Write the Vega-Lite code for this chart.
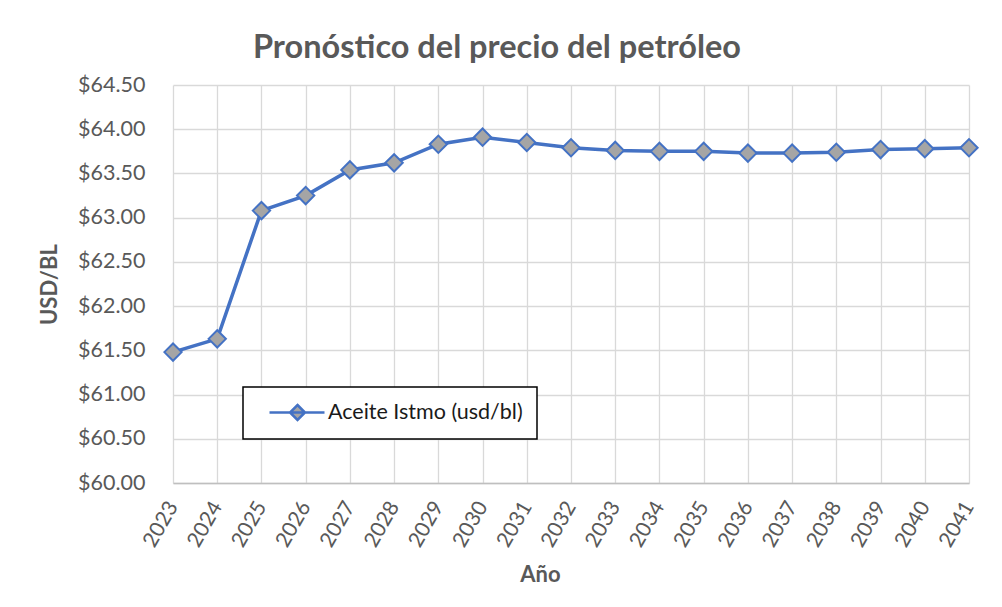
{
  "$schema": "https://vega.github.io/schema/vega-lite/v6.json",
  "width": 796,
  "height": 398,
  "autosize": "none",
  "padding": {"left": 173, "top": 85, "right": 33, "bottom": 124},
  "background": "white",
  "title": {
    "text": "Pronóstico del precio del petróleo",
    "font": "Lato",
    "fontSize": 32.5,
    "fontWeight": "bold",
    "color": "#595959",
    "anchor": "middle",
    "frame": "group",
    "dx": -74,
    "offset": 10
  },
  "data": {
    "values": [
      {"anio": 2023, "precio": 61.48, "serie": "Aceite Istmo (usd/bl)"},
      {"anio": 2024, "precio": 61.63, "serie": "Aceite Istmo (usd/bl)"},
      {"anio": 2025, "precio": 63.08, "serie": "Aceite Istmo (usd/bl)"},
      {"anio": 2026, "precio": 63.25, "serie": "Aceite Istmo (usd/bl)"},
      {"anio": 2027, "precio": 63.54, "serie": "Aceite Istmo (usd/bl)"},
      {"anio": 2028, "precio": 63.62, "serie": "Aceite Istmo (usd/bl)"},
      {"anio": 2029, "precio": 63.83, "serie": "Aceite Istmo (usd/bl)"},
      {"anio": 2030, "precio": 63.91, "serie": "Aceite Istmo (usd/bl)"},
      {"anio": 2031, "precio": 63.85, "serie": "Aceite Istmo (usd/bl)"},
      {"anio": 2032, "precio": 63.79, "serie": "Aceite Istmo (usd/bl)"},
      {"anio": 2033, "precio": 63.76, "serie": "Aceite Istmo (usd/bl)"},
      {"anio": 2034, "precio": 63.75, "serie": "Aceite Istmo (usd/bl)"},
      {"anio": 2035, "precio": 63.75, "serie": "Aceite Istmo (usd/bl)"},
      {"anio": 2036, "precio": 63.73, "serie": "Aceite Istmo (usd/bl)"},
      {"anio": 2037, "precio": 63.73, "serie": "Aceite Istmo (usd/bl)"},
      {"anio": 2038, "precio": 63.74, "serie": "Aceite Istmo (usd/bl)"},
      {"anio": 2039, "precio": 63.77, "serie": "Aceite Istmo (usd/bl)"},
      {"anio": 2040, "precio": 63.78, "serie": "Aceite Istmo (usd/bl)"},
      {"anio": 2041, "precio": 63.79, "serie": "Aceite Istmo (usd/bl)"}
    ]
  },
  "encoding": {
    "x": {
      "field": "anio",
      "type": "ordinal",
      "scale": {"type": "point", "padding": 0},
      "axis": {
        "title": "Año",
        "titleFont": "Lato",
        "titleFontSize": 22,
        "titleFontWeight": "bold",
        "titleColor": "#595959",
        "titleX": 367,
        "titleY": 91,
        "titleBaseline": "middle",
        "labelAngle": -60,
        "labelAlign": "right",
        "labelBaseline": "middle",
        "labelFont": "Lato",
        "labelFontSize": 21,
        "labelColor": "#595959",
        "labelPadding": 20,
        "ticks": false,
        "tickSize": 0,
        "domainColor": "#BFBFBF",
        "domainWidth": 1.3,
        "grid": true,
        "gridColor": "#D9D9D9",
        "gridWidth": 1.3
      }
    },
    "y": {
      "field": "precio",
      "type": "quantitative",
      "scale": {"domain": [60, 64.5], "nice": false, "zero": false},
      "axis": {
        "title": "USD/BL",
        "titleFont": "Lato",
        "titleFontSize": 22,
        "titleFontWeight": "bold",
        "titleColor": "#595959",
        "titlePadding": 16,
        "format": "$.2f",
        "values": [60, 60.5, 61, 61.5, 62, 62.5, 63, 63.5, 64, 64.5],
        "labelFont": "Lato",
        "labelFontSize": 21.5,
        "labelColor": "#595959",
        "labelPadding": 28,
        "ticks": false,
        "tickSize": 0,
        "domain": false,
        "grid": true,
        "gridColor": "#D9D9D9",
        "gridWidth": 1.3
      }
    }
  },
  "layer": [
    {
      "mark": {"type": "line", "strokeWidth": 3.5},
      "encoding": {
        "color": {
          "field": "serie",
          "type": "nominal",
          "scale": {"range": ["#4472C4"]},
          "legend": {
            "title": null,
            "orient": "none",
            "legendX": 70,
            "legendY": 302,
            "padding": 14,
            "strokeColor": "black",
            "fillColor": "white",
            "labelFont": "Lato",
            "labelFontSize": 21.5,
            "labelColor": "#1a1a1a",
            "labelLimit": 400,
            "labelOffset": 48,
            "symbolType": "M0.1,0H5.6M2.9,-0.75L3.65,0L2.9,0.75L2.15,0Z",
            "symbolSize": 400,
            "symbolStrokeWidth": 2.5,
            "encode": {
              "symbols": {"update": {"fill": {"value": "#A5A5A5"}, "stroke": {"value": "#4472C4"}, "strokeWidth": {"value": 2.5}}},
              "legend": {"update": {"strokeWidth": {"value": 1.5}}}
            }
          }
        }
      }
    },
    {
      "mark": {"type": "point", "shape": "diamond", "filled": true, "fill": "#A5A5A5", "stroke": "#4472C4", "strokeWidth": 2, "size": 300, "opacity": 1}
    }
  ],
  "config": {"view": {"stroke": null}}
}
